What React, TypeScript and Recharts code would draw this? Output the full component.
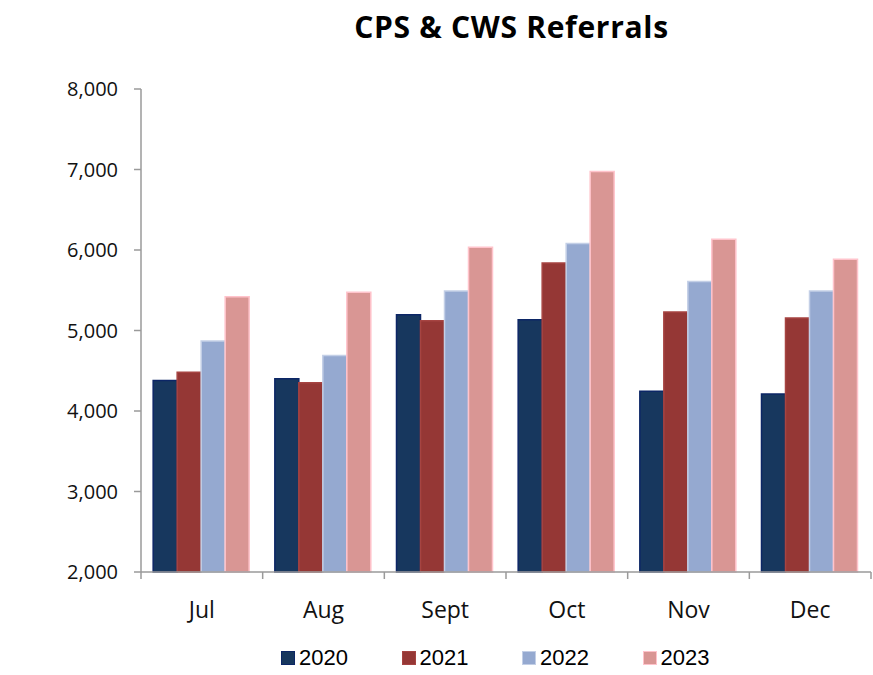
import React from "react";
import { Bar, BarChart, Legend, XAxis, YAxis } from "recharts";

const months = ["Jul", "Aug", "Sept", "Oct", "Nov", "Dec"];
const years = ["2020", "2021", "2022", "2023"];
const referrals2020 = [4380, 4400, 5195, 5135, 4245, 4210];
const referrals2021 = [4480, 4350, 5120, 5840, 5230, 5155];
const referrals2022 = [4870, 4690, 5490, 6080, 5610, 5490];
const referrals2023 = [5420, 5475, 6035, 6975, 6135, 5885];
const yTicks = [2000, 3000, 4000, 5000, 6000, 7000, 8000];

const fills = ["#17375E", "#953735", "#95A9D0", "#D99694"];
const strokes = ["#0C2666", "#A64442", "#C3CFE6", "#FFC3CB"];

const data = months.map((m, i) => ({
  month: m,
  "2020": referrals2020[i],
  "2021": referrals2021[i],
  "2022": referrals2022[i],
  "2023": referrals2023[i],
}));

const axisGray = "#9A9A9A";
const tickFont = "'Open Sans', sans-serif";

// category label plus a small tick mark on the band edges (Excel style)
function MonthTick(props: any) {
  const { x, y, payload, index } = props;
  const half = payload.offset ?? 0;
  return (
    <g>
      <line x1={x - half} x2={x - half} y1={y} y2={y + 7} stroke={axisGray} strokeWidth={1.5} />
      {index === months.length - 1 && (
        <line x1={x + half} x2={x + half} y1={y} y2={y + 7} stroke={axisGray} strokeWidth={1.5} />
      )}
      <text x={x} y={y + 46} textAnchor="middle" fontFamily={tickFont} fontSize={23} fill="#111">
        {payload.value}
      </text>
    </g>
  );
}

function YearLegend() {
  return (
    <div style={{ display: "flex", fontFamily: "'Liberation Sans', Arial, sans-serif", fontSize: 22 }}>
      {years.map((y, i) => (
        <div key={y} style={{ display: "flex", alignItems: "center", width: i < years.length - 1 ? 120.5 : "auto" }}>
          <span
            style={{
              display: "inline-block",
              width: 12,
              height: 12,
              background: fills[i],
              border: `1.5px solid ${strokes[i]}`,
              marginRight: 4,
            }}
          />
          <span style={{ color: "#000" }}>{y}</span>
        </div>
      ))}
    </div>
  );
}

export default function App() {
  return (
    <div style={{ position: "absolute", left: 0, top: 0, width: 873, height: 675, background: "#fff" }}>
      <div
        style={{
          position: "absolute",
          top: 6,
          left: 150,
          width: 723,
          textAlign: "center",
          fontFamily: tickFont,
          fontWeight: 700,
          fontSize: 30,
          letterSpacing: 0.7,
          color: "#000",
        }}
      >
        CPS &amp; CWS Referrals
      </div>
      <BarChart
        width={873}
        height={675}
        data={data}
        margin={{ top: 89, right: 2, left: 0, bottom: 0 }}
        barCategoryGap="10%"
        barGap={0}
      >
        <XAxis
          dataKey="month"
          height={103}
          stroke={axisGray}
          strokeWidth={1.5}
          tickLine={false}
          tickSize={0}
          tickMargin={0}
          tick={<MonthTick />}
          interval={0}
        />
        <YAxis
          width={141}
          domain={[2000, 8000]}
          ticks={yTicks}
          interval={0}
          stroke={axisGray}
          strokeWidth={1.5}
          tickSize={7}
          tickMargin={16}
          tickFormatter={(v: number) => v.toLocaleString("en-US")}
          tick={{ fontFamily: tickFont, fontSize: 20, fill: "#111" }}
        />
        {years.map((y, i) => (
          <Bar
            key={y}
            dataKey={y}
            fill={fills[i]}
            stroke={strokes[i]}
            strokeWidth={1.5}
            isAnimationActive={false}
          />
        ))}
        <Legend
          layout="horizontal"
          verticalAlign="middle"
          align="center"
          content={<YearLegend />}
          wrapperStyle={{ top: 645, left: 281, width: 460, height: 26 }}
        />
      </BarChart>
    </div>
  );
}
